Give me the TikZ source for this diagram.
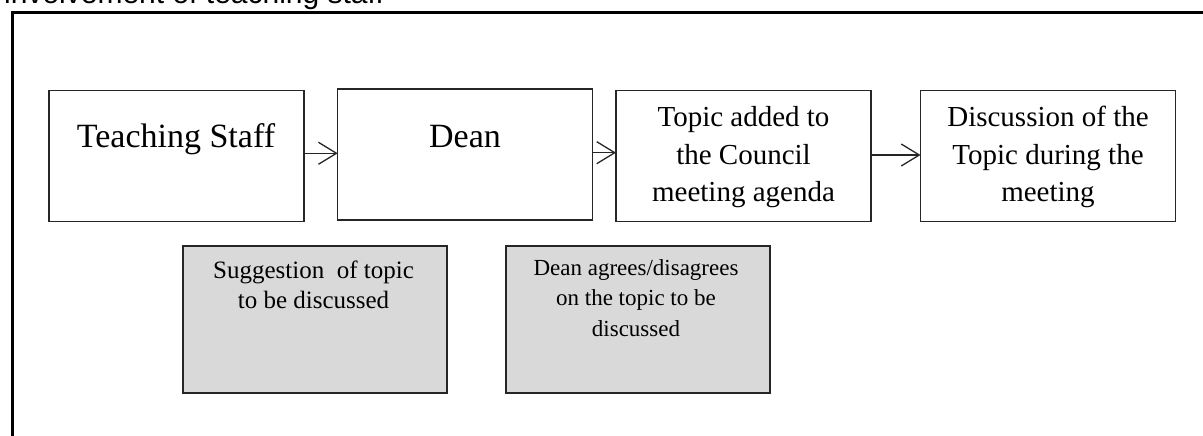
\documentclass[tikz,border=0pt]{standalone}
\usepackage{fontspec}
\setmainfont{Liberation Serif}
\newfontfamily\capfont{Liberation Sans}
\usetikzlibrary{arrows.meta}
\definecolor{boxfill}{HTML}{D9D9D9}
\definecolor{edgec}{HTML}{262626}
\tikzset{
  stepbox/.style={draw=edgec, line width=1.3pt, fill=white, inner sep=0pt, outer sep=0pt,
    minimum width=255pt, minimum height=131pt, anchor=north west},
  notebox/.style={draw=edgec, line width=1.5pt, fill=boxfill, inner sep=0pt, outer sep=0pt,
    minimum width=264pt, minimum height=147pt, anchor=north west},
  flow/.style={draw=edgec, line width=1.3pt,
    -{Straight Barb[length=18pt,width=22pt,line width=1.3pt]}},
  bigtext/.style={font=\fontsize{34}{40}\selectfont, inner sep=0pt, anchor=base},
  midtext/.style={font=\fontsize{29}{37.7}\selectfont, align=center, inner sep=0pt, anchor=base},
  smalltext/.style={font=\fontsize{25}{30}\selectfont, align=center, inner sep=0pt, anchor=base},
  tinytext/.style={font=\fontsize{23}{30.5}\selectfont, align=center, inner sep=0pt, anchor=base},
}
\begin{document}
\begin{tikzpicture}[x=1pt,y=-1pt]
\useasboundingbox (0,0) rectangle (1203,436);
\clip (0,0) rectangle (1203,436);
\node[font=\capfont\fontsize{30}{36}\selectfont, anchor=base west, inner sep=0pt] (cap) at (4,4) {involvement of teaching staff};
\draw[line width=3pt] (12.5,12.5) rectangle (1230,460);

\node[stepbox] (b1) at (49,90.7) {};
\node[stepbox] (b2) at (337.7,89) {};
\node[stepbox] (b3) at (616,90.7) {};
\node[stepbox] (b4) at (920.5,90.7) {};
\node[notebox] (g1) at (183,246) {};
\node[notebox] (g2) at (506,246) {};

\coordinate (r1) at (0,153.3);
\coordinate (r2) at (0,152.7);
\coordinate (r3) at (0,155);
\draw[flow] (b1.east |- r1) -- (b2.west |- r1);
\draw[flow] (b2.east |- r2) -- (b3.west |- r2);
\draw[flow] (b3.east |- r3) -- (b4.west |- r3);

\node[bigtext] (t1) at (176,147) {Teaching Staff};
\node[bigtext] (t2) at (465,147) {Dean};
\node[midtext] (t3) at (743.5,201.7) {Topic added to\\the Council\\meeting agenda};
\node[midtext] (t4) at (1048,201.7) {Discussion of the\\Topic during the\\meeting};
\node[smalltext] (t5) at (313.5,308) {Suggestion\hspace{0.25em} of topic\\to be discussed};
\node[tinytext] (t6) at (636,336) {Dean agrees/disagrees\\on the topic to be\\discussed};
\end{tikzpicture}
\end{document}
